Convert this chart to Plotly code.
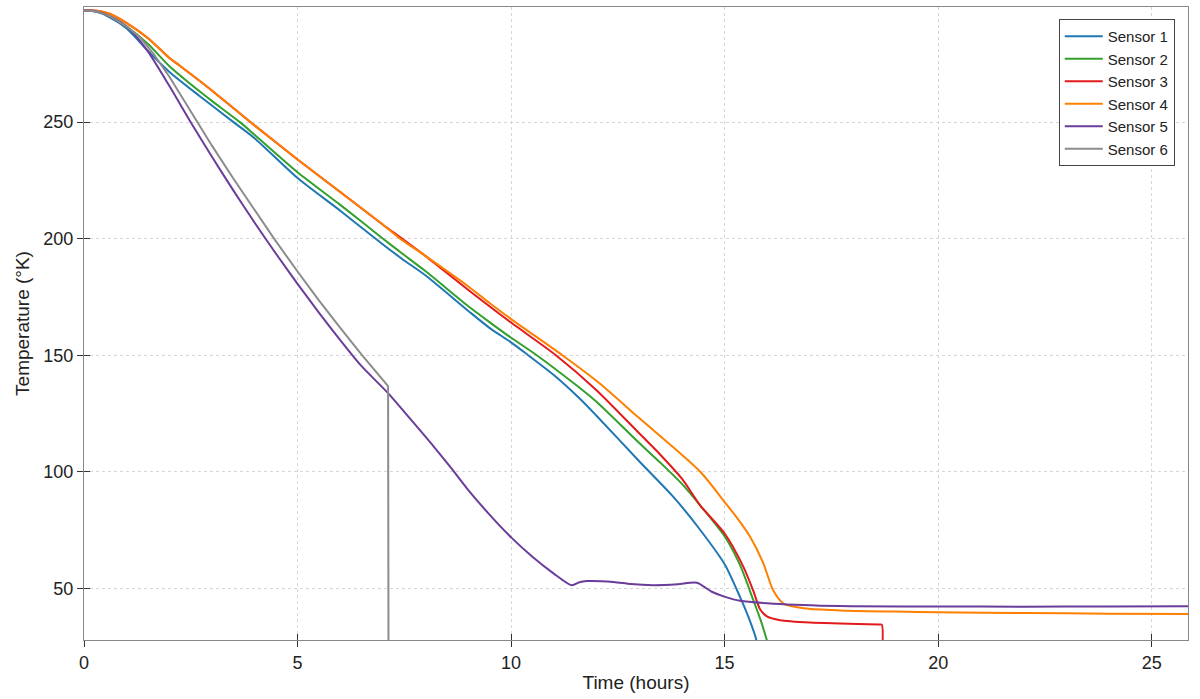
import plotly.graph_objects as go

# ---------------- data ----------------
s1_t = [0, 0.3, 0.6, 1.0, 1.5, 2.0, 2.72, 3.5, 4.0, 5.0, 6.0, 7.0, 7.45, 8.0, 9.0, 9.51, 10.0, 10.4, 11.0, 11.6, 12.0, 13.0, 13.8, 14.43, 15.01, 15.36, 15.55, 15.74, 15.8]
s1_y = [298, 297.3, 295, 290.2, 280.5, 271.5, 261, 250, 243, 226, 212, 197.5, 191.3, 184.2, 169, 161.5, 155.5, 150, 141.5, 131.5, 124, 104.5, 89.2, 75, 60, 46.3, 38, 28, 20]

s2_t = [0, 0.3, 0.6, 1.0, 1.5, 2.0, 2.72, 3.0, 3.65, 4.0, 5.0, 6.0, 7.0, 7.45, 8.0, 9.0, 9.51, 10.0, 10.6, 11.5, 12.0, 13.0, 13.5, 14.0, 14.43, 15.01, 15.36, 15.67, 15.85, 16.05]
s2_y = [298, 297.5, 295.5, 291, 283.5, 274, 263, 259, 250, 244.5, 228.5, 214.5, 200, 193.6, 186, 171, 164, 157.5, 150, 137.5, 130, 112.3, 103.8, 94.8, 85.5, 72, 60, 45, 36, 24]

s3_t = [0, 0.3, 0.6, 1.0, 1.5, 2.0, 2.22, 3.0, 4.0, 5.0, 6.0, 7.0, 7.45, 8.0, 9.0, 10.0, 11.05, 12.0, 13.0, 13.5, 14.0, 14.43, 15.0, 15.44, 15.67, 15.83, 16.0, 16.3, 17.0, 17.7, 18.6, 18.68, 18.681]
s3_y = [298, 297.8, 296.5, 292.5, 286, 277.5, 274.5, 263.5, 248.5, 234, 220, 206, 200, 192.5, 178, 164, 150, 135, 116.5, 107.2, 97, 85.5, 73.5, 59.2, 49, 41, 37.8, 36.3, 35.3, 34.9, 34.42, 34.4, 20]

s4_t = [0, 0.3, 0.6, 1.0, 1.5, 2.0, 2.22, 3.0, 4.0, 5.0, 6.0, 7.0, 7.4, 8.0, 9.0, 9.51, 10.0, 11.2, 12.0, 13.0, 14.43, 15.0, 15.3, 15.6, 15.9, 16.14, 16.38, 16.92, 17.7, 19.0, 20.0, 22.0, 24.0, 25.85]
s4_y = [298, 297.8, 296.5, 292.5, 286, 277.5, 274.5, 263.5, 248.5, 234, 220, 206, 200, 192.5, 179.5, 172.2, 165.5, 150, 139, 123, 100, 87, 80, 72, 61, 49, 43.4, 41.3, 40.5, 40, 39.7, 39.4, 39.1, 39.0]

s5_t = [0, 0.3, 0.6, 1.0, 1.47, 2.0, 2.52, 3.0, 3.5, 4.0, 4.5, 5.0, 5.5, 6.0, 6.5, 7.13, 7.6, 8.18, 8.6, 8.96, 9.5, 10.02, 10.52, 11.0, 11.42, 11.6, 11.77, 12.4, 12.8, 13.33, 13.9, 14.35, 14.7, 15.01, 15.36, 16.14, 17.7, 20.0, 22.0, 24.0, 25.85]
s5_y = [298, 297.5, 295.5, 291, 281, 265.5, 249.3, 235, 220.6, 206.7, 193.4, 180.6, 168.3, 156.5, 145.3, 133.5, 123.5, 111, 101.5, 93, 81.5, 71.5, 63.2, 56.3, 51.3, 52.6, 53.1, 52.7, 51.8, 51.3, 51.7, 52.4, 48.5, 46.3, 44.6, 43.4, 42.4, 42.2, 42.1, 42.2, 42.3]

s6_t = [0, 0.3, 0.6, 1.0, 1.3, 1.62, 2.0, 2.5, 3.0, 3.5, 4.0, 4.45, 5.0, 5.5, 6.0, 6.5, 7.12, 7.13]
s6_y = [298, 297.5, 295.5, 291, 286.5, 279.5, 269.5, 254.5, 239.8, 225.7, 212, 200, 185.9, 173.5, 161.7, 150.2, 136.7, 20]

names = ["Sensor 1", "Sensor 2", "Sensor 3", "Sensor 4", "Sensor 5", "Sensor 6"]
colors = ["#1f78b4", "#33a02c", "#e31a1c", "#ff7f00", "#6a3d9a", "#8c8c8c"]
shapes = ["spline", "spline", "spline", "spline", "spline", "linear"]

x_range = [0, 25.85]
y_range = [27.8, 299.4]
x_ticks = [0, 5, 10, 15, 20, 25]
y_ticks = [50, 100, 150, 200, 250]

# ---------------- figure ----------------
FONT = "Liberation Sans, Arial, sans-serif"
fig = go.Figure()
series = [(s1_t, s1_y), (s2_t, s2_y), (s3_t, s3_y), (s4_t, s4_y), (s5_t, s5_y), (s6_t, s6_y)]
for (t, y), n, c, sh in zip(series, names, colors, shapes):
    fig.add_trace(go.Scatter(x=t, y=y, name=n, mode="lines",
                             line=dict(color=c, width=2, shape=sh, smoothing=0.7)))

# helper trace for overlay axes (inner half of crossing ticks)
fig.add_trace(go.Scatter(x=[None], y=[None], xaxis="x2", yaxis="y2",
                         showlegend=False, hoverinfo="skip"))

axis_common = dict(showline=True, linecolor="#888888", linewidth=1, mirror=True,
                   ticks="outside", ticklen=6, tickcolor="#333333", tickwidth=1,
                   showgrid=True, gridcolor="#d6d6d6", griddash="dot", gridwidth=1,
                   zeroline=False, automargin=False,
                   tickfont=dict(size=18, color="#222222", family=FONT))

fig.update_layout(
    width=1200, height=699,
    margin=dict(l=84, r=12, t=7, b=59, autoexpand=False),
    paper_bgcolor="white", plot_bgcolor="white",
    font=dict(family=FONT, color="#222222"),
    xaxis=dict(range=x_range, tickvals=x_ticks, ticktext=[str(v) for v in x_ticks],
               title=dict(text="Time (hours)", font=dict(size=19), standoff=4),
               **axis_common),
    yaxis=dict(range=y_range, tickvals=y_ticks, ticktext=[str(v) for v in y_ticks],
               title=dict(text="Temperature (°K)", font=dict(size=19), standoff=8),
               **axis_common),
    xaxis2=dict(range=x_range, tickvals=x_ticks, overlaying="x", anchor="y2", side="bottom",
                ticks="inside", ticklen=6, tickcolor="#333333", showticklabels=False,
                showgrid=False, showline=False, zeroline=False, automargin=False),
    yaxis2=dict(range=y_range, tickvals=y_ticks, overlaying="y", anchor="x2", side="left",
                ticks="inside", ticklen=6, tickcolor="#333333", showticklabels=False,
                showgrid=False, showline=False, zeroline=False, automargin=False),
    legend=dict(x=0.988, y=0.981, xanchor="right", yanchor="top",
                bgcolor="white", bordercolor="#444444", borderwidth=1,
                itemwidth=38,
                font=dict(size=15, family=FONT, color="#222222")),
    showlegend=True,
)

fig.write_html("out.html", config={"displayModeBar": False},
               post_script="document.body.style.margin='0';document.body.style.padding='0';"
                           "document.body.style.overflow='hidden';")
